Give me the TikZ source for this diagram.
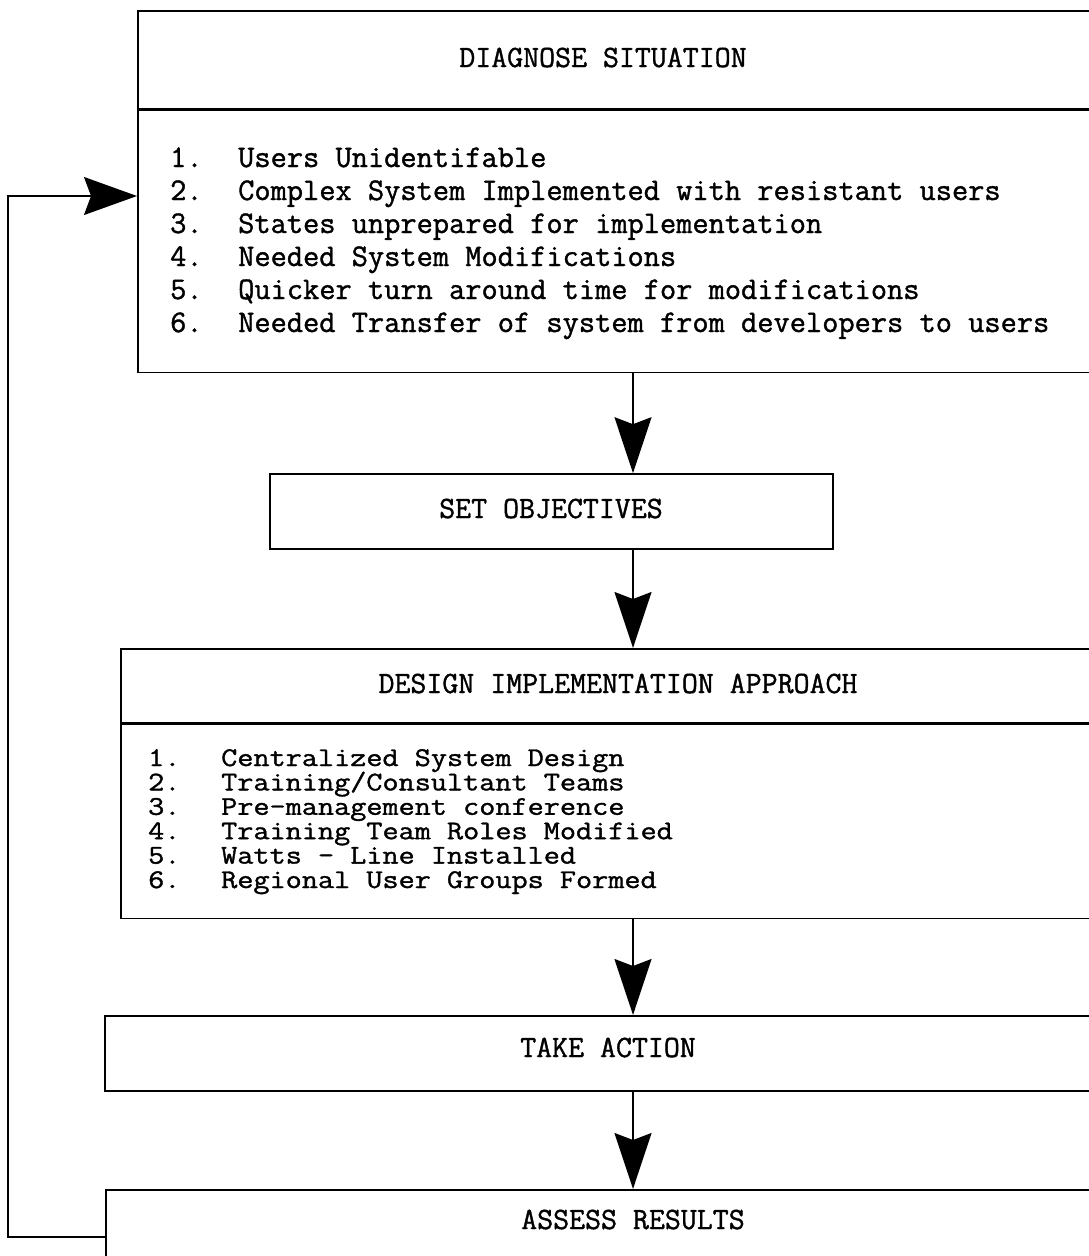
\documentclass[tikz,border=0pt]{standalone}
\usepackage{fontspec}
\usepackage{tikz}
\usetikzlibrary{arrows.meta}
\newfontfamily\typer{Latin Modern Mono}[FakeBold=1.2]
\newcommand\widen[1]{\scalebox{1.16}[1]{#1}}

\tikzset{
  box/.style={draw, line width=1.6pt, rectangle, inner sep=0pt},
  title/.style={font=\typer\fontsize{31}{33}\selectfont, anchor=base, inner sep=0pt},
  item/.style={font=\typer\fontsize{31.5}{33}\selectfont, anchor=base west, inner sep=0pt},
  tight/.style={font=\typer\fontsize{27}{24}\selectfont, anchor=base west, inner sep=0pt}
}
\tikzset{flow/.style={line width=1.6pt, -{Stealth[length=56pt, width=37pt, inset=7pt]}}}

\begin{document}
\begin{tikzpicture}[x=1pt, y=-1pt]
  \useasboundingbox (0,0) rectangle (1088,1256);

  % Diagnose situation
  \node[box, anchor=north west, minimum width=980pt, minimum height=98pt] (diaghead) at (137,10) {};
  \node[box, anchor=north west, minimum width=980pt, minimum height=262pt] (diagbody) at (diaghead.south west) {};
  \node[title] at (603,67) {DIAGNOSE SITUATION};
  \foreach \txt [count=\i] in {Users Unidentifable,
      Complex System Implemented with resistant users,
      States unprepared for implementation,
      Needed System Modifications,
      Quicker turn around time for modifications,
      Needed Transfer of system from developers to users} {
    \node[item] (dnum\i) at (170,{134+33*\i}) {\i.};
    \node[item] (dtxt\i) at (238,{134+33*\i}) {\txt};
  }

  % Set objectives
  \node[box, minimum width=563pt, minimum height=75pt] (setobj) at (551.5,511.5) {};
  \node[title] at (551,518) {SET OBJECTIVES};

  % Design implementation approach
  \node[box, anchor=north west, minimum width=1000pt, minimum height=74pt] (desighead) at (120,648) {};
  \node[box, anchor=north west, minimum width=1000pt, minimum height=194pt] (desigbody) at (desighead.south west) {};
  \node[title] at (618,693) {DESIGN IMPLEMENTATION APPROACH};
  \foreach \txt [count=\i] in {Centralized System Design,
      Training/Consultant Teams,
      Pre-management conference,
      Training Team Roles Modified,
      Watts - Line Installed,
      Regional User Groups Formed} {
    \node[tight] (anum\i) at (148,{741.6+24.4*\i}) {\widen{\i.}};
    \node[tight] (atxt\i) at (221,{741.6+24.4*\i}) {\widen{\txt}};
  }

  % Take action
  \node[box, anchor=north west, minimum width=1010pt, minimum height=75pt] (action) at (104,1015) {};
  \node[title] at (608,1057) {TAKE ACTION};

  % Assess results
  \node[box, anchor=north west, minimum width=1060pt, minimum height=96pt] (assess) at (105,1189) {};
  \node[title] at (633,1229) {ASSESS RESULTS};

  % Flow arrows
  \coordinate (spine) at (633,0);
  \draw[flow] (diagbody.south -| spine) -- (setobj.north -| spine);
  \draw[flow] (setobj.south -| spine) -- (desighead.north -| spine);
  \draw[flow] (desigbody.south -| spine) -- (action.north -| spine);
  \draw[flow] (action.south -| spine) -- (assess.north -| spine);

  % Feedback loop
  \coordinate (back) at (8,1237);
  \coordinate (loopin) at (8,196);
  \draw[flow, -{Stealth[length=53pt, width=38pt, inset=7pt]}]
    (assess.west |- back) -- (back) -- (loopin) -- (diagbody.west |- loopin);
\end{tikzpicture}
\end{document}
